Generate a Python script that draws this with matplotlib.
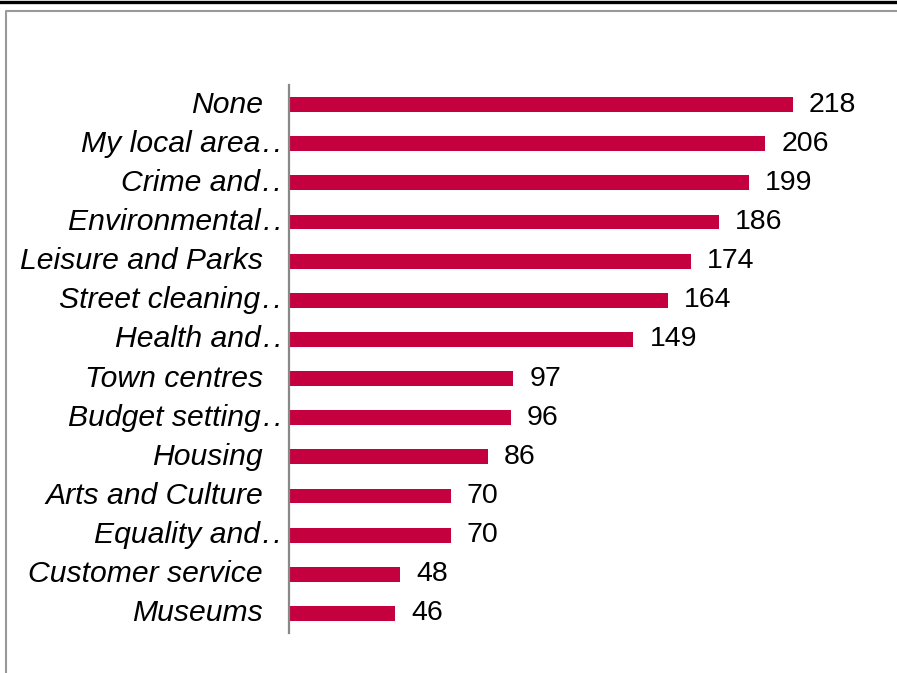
import matplotlib
matplotlib.use("Agg")
import matplotlib.pyplot as plt
from matplotlib.lines import Line2D

categories = ["None", "My local area", "Crime and", "Environmental", "Leisure and Parks",
              "Street cleaning", "Health and", "Town centres", "Budget setting", "Housing",
              "Arts and Culture", "Equality and", "Customer service", "Museums"]
truncated = [False, True, True, True, False, True, True, False, True, False, False, True, False, False]
values = [218, 206, 199, 186, 174, 164, 149, 97, 96, 86, 70, 70, 48, 46]

W, H = 897, 673
fig = plt.figure(figsize=(W / 100, H / 100), dpi=100)
fig.patch.set_facecolor("white")

# frame decorations
fig.add_artist(Line2D([0, 1], [1 - 1.5 / H, 1 - 1.5 / H], transform=fig.transFigure,
                      color="black", lw=2.4))
fig.add_artist(Line2D([5.5 / W, 5.5 / W, 1.01], [-0.01, 1 - 10.5 / H, 1 - 10.5 / H],
                      transform=fig.transFigure, color="#999999", lw=1.5))

ax = fig.add_axes([289 / W, 1 - 633 / H, (880 - 289) / W, (633 - 85) / H])
ypos = list(range(len(categories)))
ax.barh(ypos, values, height=0.38, color="#C5003E")
ax.set_ylim(len(categories) - 0.5, -0.5)
ax.set_xlim(0, 591 / (504 / 218))

for s in ["top", "right", "bottom"]:
    ax.spines[s].set_visible(False)
ax.spines["left"].set_color("#888888")
ax.spines["left"].set_linewidth(1.6)
ax.set_xticks([])
ax.set_yticks([])

for y, (c, t) in enumerate(zip(categories, truncated)):
    label = c + "\u200a.\u200a." if t else c
    off = -7 if t else -26
    ax.annotate(label, xy=(0, y), xycoords=("axes fraction", "data"),
                xytext=(off * 0.72, 0), textcoords="offset points",
                ha="right", va="center", fontsize=21.7, style="italic",
                family=["Liberation Sans", "DejaVu Sans"], color="black")

for y, v in enumerate(values):
    ax.annotate(str(v), xy=(v, y), xycoords="data", xytext=(11.5, 0),
                textcoords="offset points", ha="left", va="center",
                fontsize=20.5, family="Liberation Sans", color="black")

fig.savefig("out.png", dpi=100)
